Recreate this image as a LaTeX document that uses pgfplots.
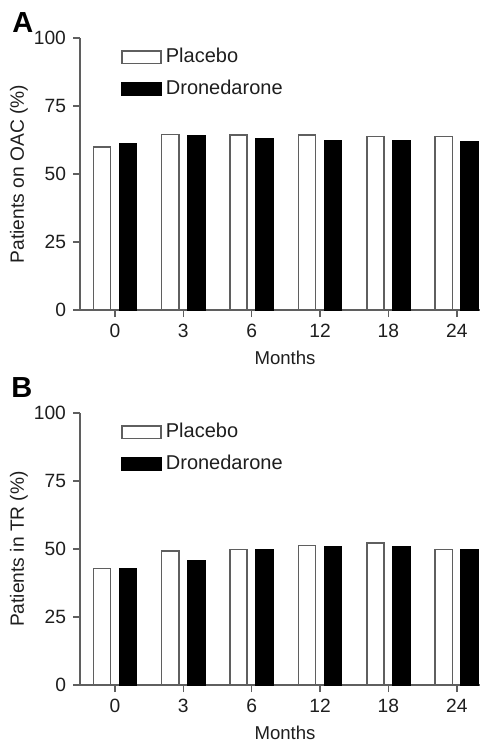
\documentclass[border=0pt]{standalone}
\usepackage{fontspec}
\setmainfont{Liberation Sans}
\usepackage{pgfplots}
\pgfplotsset{compat=1.18}

\definecolor{axisgray}{RGB}{95,95,95}
\definecolor{txt}{RGB}{30,30,30}

\pgfplotsset{
  panel/.style={
    scale only axis, width=200pt, height=136pt,
    xmin=-0.51, xmax=5.34, ymin=0, ymax=100,
    axis x line=bottom, axis y line=left,
    axis line style={draw=axisgray, line width=0.75pt, -},
    tick style={draw=axisgray, line width=0.75pt},
    major tick length=3.5pt, tick align=outside,
    xtick={0,...,5}, xticklabels={0,3,6,12,18,24},
    ytick={0,25,50,75,100},
    /pgf/number format/assume math mode=true,
    tick label style={font=\fontsize{9.6}{11}\selectfont, text=txt},
    every axis y label/.style={at={(axis description cs:0,0.5)}, xshift=-30.5pt,
      rotate=90, anchor=center, font=\fontsize{9.6}{11}\selectfont, text=txt},
    every axis x label/.style={at={(axis description cs:0.5,0)}, anchor=center,
      yshift=-24pt, xshift=2.5pt, font=\fontsize{9.3}{11}\selectfont, text=txt},
    legend style={draw=none, fill=none, at={(0,1)}, anchor=north west,
      xshift=20.5pt, yshift=-3pt, inner sep=0pt, row sep=3.3pt,
      font=\fontsize{10}{12}\selectfont, text=txt},
    legend cell align=left,
    legend image code/.code={\draw[#1] (0pt,-3.1pt) rectangle (19.5pt,3.1pt);},
    clip=false,
  },
  placebo/.style={ybar, bar width=8.6pt, bar shift=-6.5pt, fill=white,
    draw=axisgray, line width=0.75pt},
  drone/.style={ybar, bar width=8.6pt, bar shift=6.5pt, fill=black,
    draw=black, line width=0.75pt},
}

\begin{document}
\begin{tikzpicture}
\path[use as bounding box] (0,0) rectangle (244pt,-372.5pt);

\begin{axis}[panel, at={(40pt,-155pt)}, anchor=south west,
  xlabel={Months}, ylabel={Patients on OAC (\%)}]
\addplot[placebo] coordinates {(0,60.0) (1,64.5) (2,64.3) (3,64.3) (4,63.7) (5,63.7)};
\addplot[drone] coordinates {(0,61.2) (1,63.9) (2,62.8) (3,62.2) (4,62.2) (5,61.8)};
\legend{Placebo, Dronedarone}
\end{axis}

\begin{axis}[panel, at={(40pt,-342.5pt)}, anchor=south west,
  xlabel={Months}, ylabel={Patients in TR (\%)}]
\addplot[placebo] coordinates {(0,42.8) (1,49.3) (2,49.8) (3,51.2) (4,52.3) (5,49.8)};
\addplot[drone] coordinates {(0,42.9) (1,45.6) (2,49.6) (3,50.7) (4,50.8) (5,49.6)};
\legend{Placebo, Dronedarone}
\end{axis}

\node[font=\bfseries\fontsize{14.5}{16}\selectfont, anchor=base west, inner sep=0pt]
  at (6pt,-16pt) {A};
\node[font=\bfseries\fontsize{14.5}{16}\selectfont, anchor=base west, inner sep=0pt]
  at (5.5pt,-198.5pt) {B};
\end{tikzpicture}
\end{document}
